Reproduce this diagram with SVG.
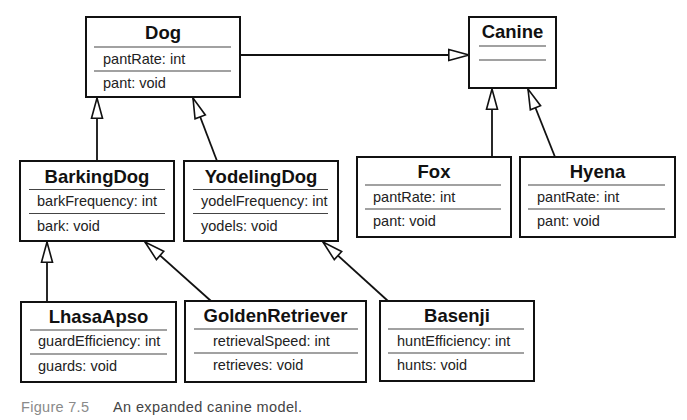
<svg xmlns="http://www.w3.org/2000/svg" width="687" height="420" viewBox="0 0 687 420">
<style>
.box{fill:#fff;stroke:#111;stroke-width:2}
.sep{stroke:#444;stroke-width:1.2}
.title{font-family:"Liberation Sans",Arial,sans-serif;font-weight:bold;font-size:18.5px;fill:#111;text-anchor:middle}
.attr{font-family:"Liberation Sans",Arial,sans-serif;font-size:14.5px;fill:#222}
.conn{fill:none;stroke:#111;stroke-width:1.8}
.cap{font-family:"Liberation Sans",Arial,sans-serif;font-size:14.5px}
</style>
<defs>
<marker id="tri" markerUnits="userSpaceOnUse" markerWidth="24" markerHeight="14" refX="21" refY="6" orient="auto" overflow="visible">
<path d="M0.8,0.5 L21,6 L0.8,11.5 Z" fill="#fff" stroke="#111" stroke-width="1.6" stroke-linejoin="miter"/>
</marker>
</defs>
<rect width="687" height="420" fill="#fff"/>
<g id="connectors">
<line class="conn" x1="240" y1="55" x2="469" y2="55" marker-end="url(#tri)"/>
<line class="conn" x1="97" y1="161" x2="97" y2="98" marker-end="url(#tri)"/>
<line class="conn" x1="217" y1="161" x2="193" y2="98" marker-end="url(#tri)"/>
<line class="conn" x1="492" y1="157" x2="492" y2="89" marker-end="url(#tri)"/>
<line class="conn" x1="555" y1="157" x2="528" y2="89" marker-end="url(#tri)"/>
<line class="conn" x1="47" y1="302" x2="47" y2="242" marker-end="url(#tri)"/>
<line class="conn" x1="211" y1="301" x2="145" y2="242" marker-end="url(#tri)"/>
<line class="conn" x1="388" y1="301" x2="323" y2="242" marker-end="url(#tri)"/>
</g>
<g id="Dog">
<rect class="box" x="86" y="17" width="154" height="80"/>
<text class="title" x="163" y="39">Dog</text>
<line class="sep" x1="94" y1="47" x2="231" y2="47"/>
<text class="attr" x="103" y="64">pantRate: int</text>
<line class="sep" x1="94" y1="71" x2="231" y2="71"/>
<text class="attr" x="103" y="88">pant: void</text>
</g>
<g id="Canine">
<rect class="box" x="469" y="17" width="87" height="71"/>
<text class="title" x="512.5" y="38">Canine</text>
<line class="sep" x1="479" y1="46" x2="546" y2="46"/>
<line class="sep" x1="479" y1="60" x2="546" y2="60"/>
</g>
<g id="BarkingDog">
<rect class="box" x="20" y="161" width="154" height="80"/>
<text class="title" x="97" y="182.5">BarkingDog</text>
<line class="sep" x1="29" y1="189.5" x2="165" y2="189.5"/>
<text class="attr" x="37" y="206">barkFrequency: int</text>
<line class="sep" x1="29" y1="213.5" x2="165" y2="213.5"/>
<text class="attr" x="37" y="231">bark: void</text>
</g>
<g id="YodelingDog">
<rect class="box" x="184" y="161" width="154" height="80"/>
<text class="title" x="261" y="182.5">YodelingDog</text>
<line class="sep" x1="193" y1="189.5" x2="328" y2="189.5"/>
<text class="attr" x="201" y="206">yodelFrequency: int</text>
<line class="sep" x1="193" y1="213.5" x2="328" y2="213.5"/>
<text class="attr" x="201" y="231">yodels: void</text>
</g>
<g id="Fox">
<rect class="box" x="357" y="157" width="154" height="80"/>
<text class="title" x="434" y="178">Fox</text>
<line class="sep" x1="365" y1="185" x2="501" y2="185"/>
<text class="attr" x="373" y="202">pantRate: int</text>
<line class="sep" x1="365" y1="209" x2="501" y2="209"/>
<text class="attr" x="373" y="226">pant: void</text>
</g>
<g id="Hyena">
<rect class="box" x="520" y="157" width="155" height="80"/>
<text class="title" x="597.5" y="178">Hyena</text>
<line class="sep" x1="528" y1="185" x2="665" y2="185"/>
<text class="attr" x="537" y="202">pantRate: int</text>
<line class="sep" x1="528" y1="209" x2="665" y2="209"/>
<text class="attr" x="537" y="226">pant: void</text>
</g>
<g id="LhasaApso">
<rect class="box" x="21" y="302" width="155" height="80"/>
<text class="title" x="98.5" y="323">LhasaApso</text>
<line class="sep" x1="30" y1="330" x2="167" y2="330"/>
<text class="attr" x="38" y="346">guardEfficiency: int</text>
<line class="sep" x1="30" y1="354" x2="167" y2="354"/>
<text class="attr" x="38" y="371">guards: void</text>
</g>
<g id="GoldenRetriever">
<rect class="box" x="185" y="301" width="181" height="81"/>
<text class="title" x="275.5" y="322">GoldenRetriever</text>
<line class="sep" x1="194" y1="329" x2="358" y2="329"/>
<text class="attr" x="213" y="346">retrievalSpeed: int</text>
<line class="sep" x1="194" y1="353" x2="358" y2="353"/>
<text class="attr" x="213" y="370">retrieves: void</text>
</g>
<g id="Basenji">
<rect class="box" x="380" y="301" width="154" height="80"/>
<text class="title" x="457" y="322">Basenji</text>
<line class="sep" x1="388" y1="329" x2="524" y2="329"/>
<text class="attr" x="397" y="346">huntEfficiency: int</text>
<line class="sep" x1="388" y1="353" x2="524" y2="353"/>
<text class="attr" x="397" y="370">hunts: void</text>
</g>
<g id="caption">
<text class="cap" x="21" y="412" fill="#8a8a8a" textLength="68">Figure 7.5</text>
<text class="cap" x="113" y="412" fill="#444" textLength="189">An expanded canine model.</text>
</g>
</svg>
